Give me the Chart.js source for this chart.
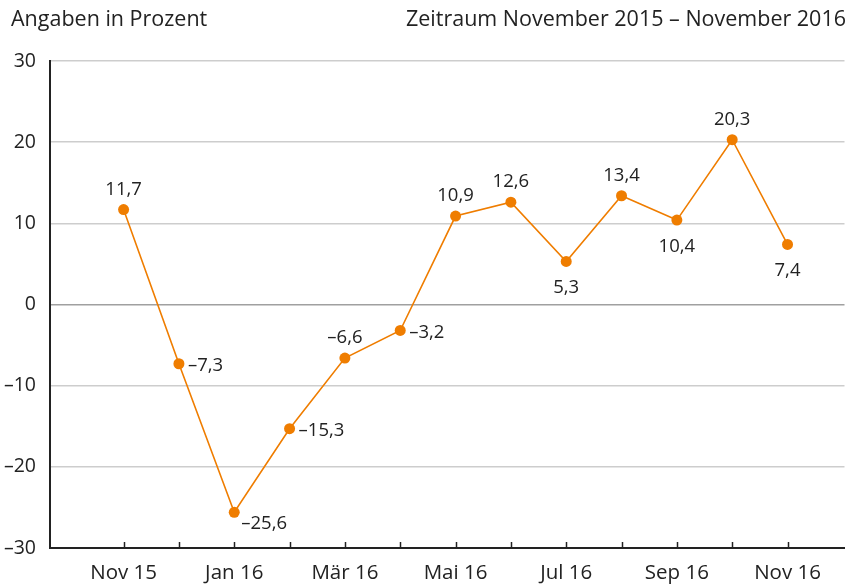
<!DOCTYPE html>
<html>
<head>
<meta charset="utf-8">
<script src="https://cdn.jsdelivr.net/npm/chart.js@4"></script>
<style>
  html, body { margin: 0; padding: 0; background: #fff; }
  #wrap { position: relative; width: 850px; height: 585px; }
  .cap { position: absolute; top: 3px; font: 21.5px "Open Sans", sans-serif; color: #222; white-space: nowrap; }
  #capLeft { left: 11px; }
  #capRight { right: 4px; }
</style>
</head>
<body>
<div id="wrap">
  <canvas id="c" width="850" height="585"></canvas>
  <div class="cap" id="capLeft">Angaben in Prozent</div>
  <div class="cap" id="capRight">Zeitraum November 2015 – November 2016</div>
</div>
<script>
const MONTHS = ['Nov 15', 'Dez 15', 'Jan 16', 'Feb 16', 'Mär 16', 'Apr 16', 'Mai 16',
                'Jun 16', 'Jul 16', 'Aug 16', 'Sep 16', 'Okt 16', 'Nov 16'];
const VALUES = [11.7, -7.3, -25.6, -15.3, -6.6, -3.2, 10.9, 12.6, 5.3, 13.4, 10.4, 20.3, 7.4];
// where the value label sits relative to its point
const LABEL_POS = ['above', 'right', 'rightBelow', 'right', 'above', 'right', 'above',
                   'above', 'below', 'above', 'below', 'above', 'below'];
const Y_TICKS = [-30, -20, -10, 0, 10, 20, 30];

const ORANGE = '#ef7d00';
const FONT = '"Open Sans", sans-serif';

const fmtNum = v => String(v).replace('.', ',').replace('-', '–');

// ── Plugins ───────────────────────────────────────────────────────────────────

const innerTicks = {
  id: 'innerTicks',
  afterDraw(chart) {
    const { ctx, chartArea, scales } = chart;
    ctx.save();
    ctx.strokeStyle = '#222';
    ctx.lineWidth = 1.5;
    MONTHS.forEach((_, i) => {
      const x = Math.round(scales.x.getPixelForValue(i)) + 0.5;
      ctx.beginPath();
      ctx.moveTo(x, chartArea.bottom);
      ctx.lineTo(x, chartArea.bottom - 6);
      ctx.stroke();
    });
    ctx.restore();
  },
};

const valueLabels = {
  id: 'valueLabels',
  afterDatasetsDraw(chart) {
    const { ctx } = chart;
    const pts = chart.getDatasetMeta(0).data;
    ctx.save();
    ctx.fillStyle = '#222';
    ctx.font = `18.5px ${FONT}`;
    pts.forEach((p, i) => {
      const txt = fmtNum(VALUES[i]);
      const pos = LABEL_POS[i];
      if (pos === 'above') {
        ctx.textAlign = 'center'; ctx.textBaseline = 'alphabetic';
        ctx.fillText(txt, p.x, p.y - 15);
      } else if (pos === 'below') {
        ctx.textAlign = 'center'; ctx.textBaseline = 'alphabetic';
        ctx.fillText(txt, p.x, p.y + 32);
      } else if (pos === 'right') {
        ctx.textAlign = 'left'; ctx.textBaseline = 'middle';
        ctx.fillText(txt, p.x + 9, p.y + 2);
      } else {
        ctx.textAlign = 'left'; ctx.textBaseline = 'middle';
        ctx.fillText(txt, p.x + 7, p.y + 11);
      }
    });
    ctx.restore();
  },
};

// ── Chart ─────────────────────────────────────────────────────────────────────

new Chart(document.getElementById('c').getContext('2d'), {
  type: 'line',
  data: {
    datasets: [{
      data: VALUES.map((v, i) => ({ x: i, y: v })),
      borderColor: ORANGE,
      backgroundColor: ORANGE,
      borderWidth: 1.6,
      pointRadius: 5.5,
      pointBorderWidth: 0,
      pointBackgroundColor: ORANGE,
      tension: 0,
    }],
  },
  plugins: [innerTicks, valueLabels],
  options: {
    responsive: false,
    animation: false,
    layout: { padding: { top: 61, right: 3, left: 0, bottom: 0 } },
    plugins: { legend: { display: false }, tooltip: { enabled: false } },
    scales: {
      x: {
        type: 'linear',
        min: -1.33,
        max: 13.03,
        afterBuildTicks: s => { s.ticks = MONTHS.map((_, i) => ({ value: i })); },
        afterFit: s => { s.height = 37; },
        ticks: {
          autoSkip: false,
          maxRotation: 0,
          padding: 13,
          color: '#222',
          font: { size: 20.5, family: FONT },
          callback: v => (v % 2 === 0 ? MONTHS[v] : ''),
        },
        grid: { display: false, drawTicks: false },
        border: { display: true, color: '#222', width: 2 },
      },
      y: {
        min: -30,
        max: 30,
        afterBuildTicks: s => { s.ticks = Y_TICKS.map(v => ({ value: v })); },
        afterFit: s => { s.width = 50; },
        ticks: {
          padding: 14,
          color: '#222',
          font: { size: 19.5, family: FONT },
          callback: v => fmtNum(v),
        },
        grid: {
          drawTicks: false,
          color: ctx => (ctx.tick && ctx.tick.value === 0 ? '#a0a0a0' : '#cdcdcd'),
          lineWidth: 1.5,
        },
        border: { display: true, color: '#222', width: 2 },
      },
    },
  },
});
</script>
</body>
</html>
